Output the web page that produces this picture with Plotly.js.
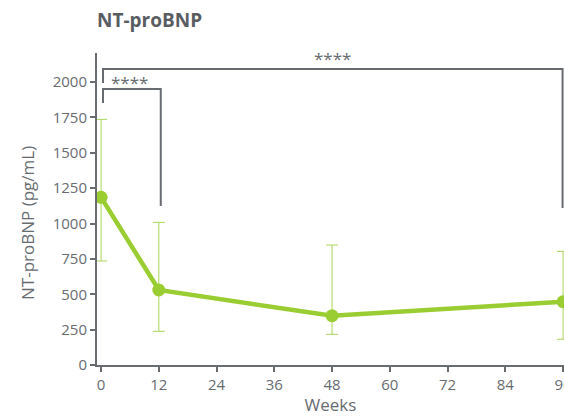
<!DOCTYPE html>
<html>
<head>
<meta charset="utf-8">
<script src="https://cdn.plot.ly/plotly-3.0.1.min.js"></script>
<style>html,body{margin:0;padding:0;background:#fff;}#chart{width:564px;height:416px;}</style>
</head>
<body>
<div id="chart"></div>
<script>
var weeks = [0, 12, 48, 96];
var meanValues = [1185, 530, 348, 447];
var errUpper = [1736, 1008, 848, 803];
var errLower = [735, 238, 217, 182];
var xTickVals = [0, 12, 24, 36, 48, 60, 72, 84, 96];
var yTickVals = [0, 250, 500, 750, 1000, 1250, 1500, 1750, 2000];

// significance brackets
var bracketStart = [0.4, 0.4];
var bracketEnd = [12.4, 95.9];
var bracketTop = [1950, 2092];
var bracketLeftBottom = [1852, 1993];
var bracketRightBottom = [1124, 1110];
var bracketLabel = ['****', '****'];
var bracketLabelX = [6, 48];
var bracketLabelY = [1998, 2168];

var green = '#9acd32';
var greenLight = '#a9d45a';
var grey = '#686c71';

var plus = errUpper.map(function(v, i){ return v - meanValues[i]; });
var minus = errLower.map(function(v, i){ return meanValues[i] - v; });

var trace = {
  x: weeks, y: meanValues, type: 'scatter', mode: 'lines+markers',
  line: {color: green, width: 4.5},
  marker: {color: green, size: 13},
  error_y: {type: 'data', symmetric: false, array: plus, arrayminus: minus,
            color: greenLight, thickness: 1, width: 6},
  cliponaxis: true, showlegend: false
};

var shapes = [];
var annotations = [];
for (var i = 0; i < bracketStart.length; i++) {
  shapes.push({type: 'path', xref: 'x', yref: 'y',
    path: 'M' + bracketStart[i] + ',' + bracketLeftBottom[i] + ' L' + bracketStart[i] + ',' + bracketTop[i] +
          ' L' + bracketEnd[i] + ',' + bracketTop[i] + ' L' + bracketEnd[i] + ',' + bracketRightBottom[i],
    line: {color: grey, width: 2}});
  annotations.push({x: bracketLabelX[i], y: bracketLabelY[i], xref: 'x', yref: 'y',
    text: bracketLabel[i], showarrow: false, font: {family: 'Open Sans', size: 17, color: grey}});
}
// y-axis title (placed slightly below centre, as in the reference)
annotations.push({x: -0.15, y: 0.455, xref: 'paper', yref: 'paper', textangle: -90,
  text: 'NT-proBNP (pg/mL)', showarrow: false, xanchor: 'center', yanchor: 'middle',
  font: {family: 'Open Sans', size: 17, color: grey}});

var layout = {
  width: 564, height: 416,
  margin: {l: 97, r: 0, t: 53, b: 51},
  paper_bgcolor: '#fff', plot_bgcolor: '#fff',
  font: {family: 'Open Sans', color: grey, size: 15},
  title: {text: '<b>NT-proBNP</b>', x: 0, xref: 'paper', xanchor: 'left', y: 0.968, yref: 'container',
          font: {family: 'Open Sans', size: 19, color: '#595d62'}},
  xaxis: {range: [-0.85, 96.2], tickvals: xTickVals, ticktext: xTickVals.map(String),
          showline: true, linecolor: grey, linewidth: 2, ticks: 'outside', ticklen: 5, tickwidth: 2, tickcolor: grey,
          showgrid: false, zeroline: false, tickfont: {size: 15, color: grey}, ticklabeloverflow: 'allow',
          title: {text: 'Weeks', font: {size: 17, color: grey}, standoff: 5}},
  yaxis: {range: [0, 2205], tickvals: yTickVals,
          showline: true, linecolor: grey, linewidth: 2, ticks: 'outside', ticklen: 5, tickwidth: 2, tickcolor: grey,
          showgrid: false, zeroline: false, tickfont: {size: 15, color: grey}},
  shapes: shapes, annotations: annotations
};

Plotly.newPlot('chart', [trace], layout, {displayModeBar: false, staticPlot: true});
</script>
</body>
</html>
